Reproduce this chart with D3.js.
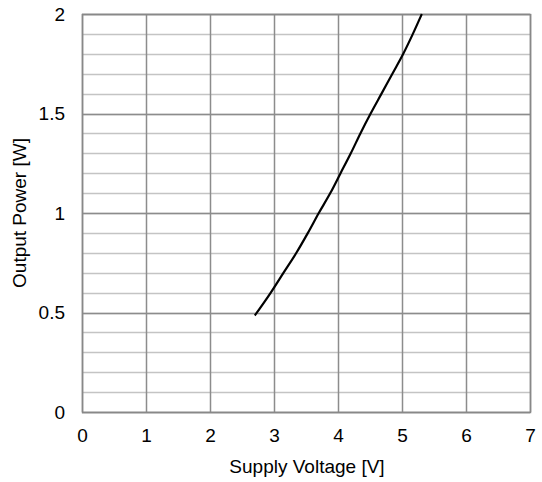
<!DOCTYPE html>
<html><head><meta charset="utf-8">
<script src="https://cdn.jsdelivr.net/npm/d3@7"></script>
<style>body{margin:0;background:#fff;}text{font-family:"Liberation Sans",Arial,sans-serif;}</style>
</head><body>
<svg id="c" width="542" height="482"></svg>
<script>
const voltage = [2.70, 2.95, 3.15, 3.35, 3.53, 3.70, 3.88, 4.04, 4.20, 4.35, 4.51, 4.68, 4.85, 5.02, 5.17, 5.31];
const power   = [0.485, 0.60, 0.70, 0.80, 0.90, 1.00, 1.10, 1.20, 1.30, 1.40, 1.50, 1.60, 1.70, 1.80, 1.90, 2.00];
const xTicks = [0,1,2,3,4,5,6,7];
const yTicks = [0,0.5,1,1.5,2];
const yMinor = d3.range(0, 2.001, 0.1);

const svg = d3.select("#c");
const m = {l:82, r:530, t:14, b:412};
const x = d3.scaleLinear().domain([0,7]).range([m.l, m.r]);
const y = d3.scaleLinear().domain([0,2]).range([m.b, m.t]);
const FS = 19;

svg.append("g").selectAll("line").data(yMinor).join("line")
  .attr("x1", m.l).attr("x2", m.r)
  .attr("y1", d=>Math.round(y(d))+0.5).attr("y2", d=>Math.round(y(d))+0.5)
  .attr("stroke", "#c4c4c4").attr("stroke-width", 1.5);
svg.append("g").selectAll("line").data(yTicks).join("line")
  .attr("x1", m.l).attr("x2", m.r)
  .attr("y1", d=>Math.round(y(d))+0.5).attr("y2", d=>Math.round(y(d))+0.5)
  .attr("stroke", "#8c8c8c").attr("stroke-width", 1.5);
svg.append("g").selectAll("line").data(xTicks).join("line")
  .attr("y1", m.t).attr("y2", m.b)
  .attr("x1", d=>Math.round(x(d))+0.5).attr("x2", d=>Math.round(x(d))+0.5)
  .attr("stroke", "#8c8c8c").attr("stroke-width", 1.5);
svg.append("rect").attr("x", m.l+0.5).attr("y", m.t+0.5)
  .attr("width", m.r-m.l).attr("height", m.b-m.t)
  .attr("fill", "none").attr("stroke", "#888").attr("stroke-width", 1.5);

const xAxis = svg.append("g").attr("transform", `translate(0,${m.b})`)
  .call(d3.axisBottom(x).tickValues(xTicks).tickSize(0).tickPadding(17).tickFormat(d3.format("d")));
xAxis.select(".domain").remove();
xAxis.selectAll("text").attr("font-size", FS).attr("fill", "#000").attr("font-family", "Liberation Sans, Arial, sans-serif");
const yAxis = svg.append("g").attr("transform", `translate(${m.l},0)`)
  .call(d3.axisLeft(y).tickValues(yTicks).tickSize(0).tickPadding(17).tickFormat(d=>String(d)));
yAxis.select(".domain").remove();
yAxis.selectAll("text").attr("font-size", FS).attr("fill", "#000").attr("font-family", "Liberation Sans, Arial, sans-serif");

const line = d3.line().x((d,i)=>x(voltage[i])).y(d=>y(d)).curve(d3.curveMonotoneX);
svg.append("path").datum(power).attr("d", line)
  .attr("fill", "none").attr("stroke", "#000").attr("stroke-width", 2.2);

svg.append("text").attr("x", (m.l+m.r)/2 + 1).attr("y", 473).attr("text-anchor", "middle")
  .attr("font-size", FS).text("Supply Voltage [V]");
svg.append("text").attr("transform", `translate(26,${(m.t+m.b)/2}) rotate(-90)`)
  .attr("text-anchor", "middle").attr("font-size", FS).text("Output Power [W]");
</script>
</body></html>
